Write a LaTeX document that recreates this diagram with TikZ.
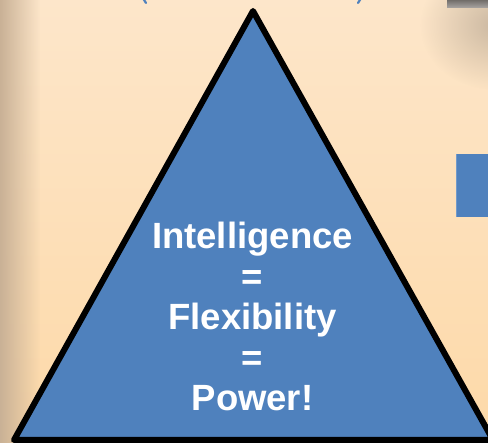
\documentclass[tikz,border=0pt]{standalone}
\usepackage{fontspec}
\setmainfont{Liberation Sans}
\usetikzlibrary{fadings}
\definecolor{bgtop}{HTML}{FDE6CA}
\definecolor{bgbot}{HTML}{FDD9A8}
\definecolor{edgebrown}{HTML}{C9B196}
\definecolor{shadowc}{HTML}{A39482}
\definecolor{offblue}{HTML}{4F81BD}
\definecolor{boxgray}{HTML}{86807C}
\tikzfading[name=fadeR, left color=transparent!0, right color=transparent!100]
\tikzfading[name=fadeRad, inner color=transparent!45, outer color=transparent!100]
\tikzset{
  pyramid/.style={fill=offblue, draw=black, line width=6pt, line join=round},
  slogan/.style={text=white, font=\bfseries\fontsize{36.5}{40.5}\selectfont, anchor=base, inner sep=0pt},
  parenbit/.style={draw=offblue, line width=2.2pt, line cap=round}
}
\begin{document}
\begin{tikzpicture}[x=1pt,y=-1pt]
\useasboundingbox (0,0) rectangle (488,443);
% background
\shade[top color=bgtop, bottom color=bgbot] (0,0) rectangle (488,443);
\fill[edgebrown, path fading=fadeR] (0,0) rectangle (40,443);
\fill[shadowc, path fading=fadeRad] (495,25) ellipse (75pt and 65pt);
\shade[top color=boxgray!80!black, bottom color=boxgray!70!white] (447,-1) rectangle (489,8);
% cropped title parentheses
\draw[parenbit] (143.5,-1) .. controls (144,1.5) .. (146,3);
\draw[parenbit] (360.5,-1) .. controls (360,1.5) .. (358,3);
% side box
\fill[offblue] (455.5,154) rectangle (489,217);
\draw[offblue!80!white, line width=0.6pt] (455.8,154) -- (455.8,217);
% triangle
\coordinate (apex) at (253,11);
\coordinate (bl) at (14,440);
\coordinate (br) at (493,440);
\draw[pyramid] (apex) -- (br) -- (bl) -- cycle;
% text
\node[slogan] (t1) at (252.5,249) {Intelligence};
\node[slogan] (t2) at (252.5,289.5) {=};
\node[slogan] (t3) at (252.5,330) {Flexibility};
\node[slogan] (t4) at (252.5,370.5) {=};
\node[slogan] (t5) at (252.5,411) {Power!};
\end{tikzpicture}
\end{document}
